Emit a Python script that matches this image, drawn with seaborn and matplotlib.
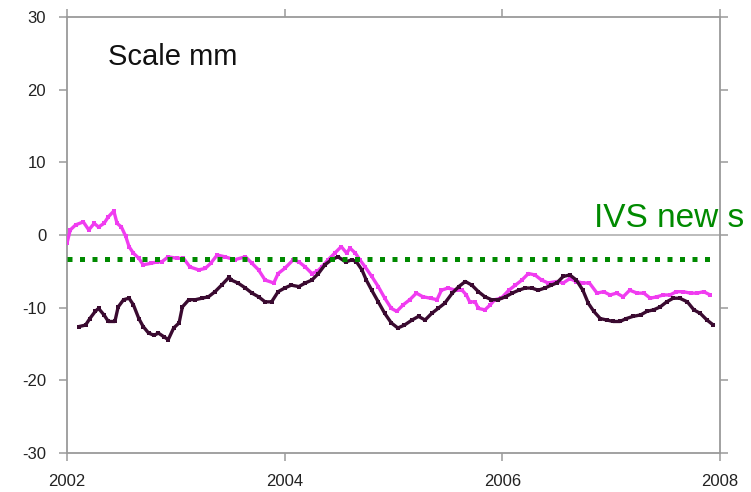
import matplotlib
matplotlib.use("Agg")
import matplotlib.pyplot as plt
import seaborn as sns
import pandas as pd

# ---- data ----
mag_year = [2002.0, 2002.03, 2002.08, 2002.15, 2002.2, 2002.25, 2002.29, 2002.34, 2002.38, 2002.43,
            2002.46, 2002.5, 2002.54, 2002.57, 2002.61, 2002.66, 2002.7, 2002.77, 2002.83, 2002.87,
            2002.93, 2003.01, 2003.07, 2003.13, 2003.21, 2003.27, 2003.32, 2003.38, 2003.45, 2003.54,
            2003.64, 2003.70, 2003.76, 2003.82, 2003.9, 2003.94, 2004.0, 2004.08, 2004.13, 2004.19,
            2004.25, 2004.3, 2004.34, 2004.4, 2004.46, 2004.52, 2004.57, 2004.6, 2004.65, 2004.69,
            2004.74, 2004.8, 2004.86, 2004.92, 2004.98, 2005.03, 2005.09, 2005.15, 2005.21, 2005.27,
            2005.34, 2005.4, 2005.44, 2005.5, 2005.57, 2005.63, 2005.67, 2005.7, 2005.75, 2005.78,
            2005.84, 2005.89, 2005.93, 2005.99, 2006.06, 2006.12, 2006.18, 2006.24, 2006.3, 2006.36,
            2006.42, 2006.5, 2006.56, 2006.62, 2006.68, 2006.74, 2006.8, 2006.87, 2006.93, 2006.99,
            2007.05, 2007.11, 2007.17, 2007.24, 2007.3, 2007.36, 2007.42, 2007.48, 2007.54, 2007.6,
            2007.66, 2007.73, 2007.79, 2007.85, 2007.91]
mag_val = [-1.1, 0.7, 1.4, 1.8, 0.7, 1.6, 1.1, 1.6, 2.5, 3.3,
           1.6, 1.1, -0.2, -1.6, -2.5, -3.2, -4.1, -3.9, -3.7, -3.7,
           -3.0, -3.2, -3.2, -4.4, -4.8, -4.6, -3.9, -2.75, -3.0, -3.4,
           -3.0, -3.9, -4.8, -6.2, -6.6, -5.3, -4.6, -3.4, -3.7, -4.4,
           -5.3, -5.0, -4.4, -3.4, -2.5, -1.6, -2.5, -1.8, -2.5, -3.4,
           -4.4, -5.7, -7.1, -8.7, -10.1, -10.5, -9.6, -8.9, -8.0, -8.5,
           -8.7, -8.9, -7.6, -7.3, -7.6, -7.6, -8.25, -9.2, -9.2, -10.1,
           -10.3, -9.6, -8.9, -8.7, -7.6, -6.9, -6.2, -5.3, -5.5, -6.2,
           -6.6, -6.4, -6.6, -6.0, -6.4, -6.6, -6.6, -8.0, -7.8, -8.25,
           -8.0, -8.5, -7.6, -8.0, -8.0, -8.7, -8.5, -8.25, -8.25, -7.8,
           -7.8, -8.0, -8.0, -7.8, -8.25]

dark_year = [2002.11, 2002.17, 2002.21, 2002.26, 2002.29, 2002.34, 2002.38, 2002.44, 2002.47, 2002.52,
             2002.57, 2002.61, 2002.66, 2002.7, 2002.75, 2002.8, 2002.84, 2002.89, 2002.93, 2002.98,
             2003.03, 2003.06, 2003.12, 2003.18, 2003.24, 2003.3, 2003.36, 2003.42, 2003.49, 2003.51,
             2003.57, 2003.64, 2003.7, 2003.76, 2003.82, 2003.88, 2003.94, 2004.0, 2004.06, 2004.13,
             2004.19, 2004.25, 2004.31, 2004.37, 2004.43, 2004.49, 2004.56, 2004.62, 2004.66, 2004.71,
             2004.75, 2004.8, 2004.86, 2004.92, 2004.98, 2005.04, 2005.1, 2005.17, 2005.23, 2005.29,
             2005.35, 2005.41, 2005.47, 2005.54, 2005.6, 2005.66, 2005.72, 2005.78, 2005.84, 2005.9,
             2005.96, 2006.03, 2006.09, 2006.15, 2006.21, 2006.27, 2006.33, 2006.39, 2006.45, 2006.5,
             2006.56, 2006.62, 2006.68, 2006.74, 2006.79, 2006.84, 2006.9, 2006.96, 2007.02, 2007.08,
             2007.14, 2007.2, 2007.27, 2007.33, 2007.39, 2007.45, 2007.51, 2007.57, 2007.63, 2007.7,
             2007.76, 2007.82, 2007.88, 2007.94]
dark_val = [-12.6, -12.4, -11.5, -10.5, -10.1, -11.0, -11.9, -11.9, -9.9, -8.9,
            -8.7, -9.6, -11.5, -12.6, -13.5, -13.8, -13.5, -14.0, -14.4, -12.8,
            -12.1, -9.9, -8.9, -8.9, -8.7, -8.5, -7.8, -6.9, -5.8, -6.2,
            -6.6, -7.3, -8.0, -8.5, -9.2, -9.2, -7.8, -7.3, -6.9, -7.1,
            -6.6, -6.2, -5.3, -4.1, -3.4, -3.0, -3.7, -3.4, -3.7, -4.8,
            -6.2, -7.6, -9.2, -10.8, -12.1, -12.8, -12.4, -11.7, -11.2, -11.7,
            -10.8, -10.1, -9.4, -8.0, -7.1, -6.4, -6.9, -7.8, -8.5, -8.9,
            -8.9, -8.5, -8.0, -7.6, -7.3, -7.3, -7.6, -7.3, -6.9, -6.6,
            -5.7, -5.5, -6.2, -7.6, -9.4, -10.5, -11.5, -11.7, -11.9, -11.9,
            -11.5, -11.2, -11.0, -10.5, -10.3, -9.9, -9.2, -8.7, -8.7, -9.2,
            -10.3, -10.8, -11.7, -12.4]

ivs_year = [2002.0, 2007.95]
ivs_val = [-3.3, -3.3]

x_ticks = [2002, 2004, 2006, 2008]
y_ticks = [-30, -20, -10, 0, 10, 20, 30]

# ---- plotting ----
sns.set_style("ticks")
plt.rcParams["font.family"] = ["Liberation Sans", "DejaVu Sans"]

fig = plt.figure(figsize=(7.51, 4.92), dpi=100)
ax = fig.add_axes([67 / 751, 1 - 453 / 492, (720 - 67) / 751, (453 - 17) / 492])

df_mag = pd.DataFrame({"year": mag_year, "val": mag_val})
df_dark = pd.DataFrame({"year": dark_year, "val": dark_val})
df_ivs = pd.DataFrame({"year": ivs_year, "val": ivs_val})

ax.axhline(0, color="#b0b0b0", lw=1.2, zorder=1)

sns.lineplot(data=df_mag, x="year", y="val", ax=ax, color="#f03cf0", lw=2.4,
             marker="s", markersize=2.8, markeredgewidth=0, zorder=3)
sns.lineplot(data=df_dark, x="year", y="val", ax=ax, color="#3a0a30", lw=2.4,
             marker="s", markersize=2.8, markeredgewidth=0, zorder=4)
sns.lineplot(data=df_ivs, x="year", y="val", ax=ax, color="#008a00", lw=3.6,
             dashes=False, zorder=5)
line = ax.lines[-1]
line.set_dashes((1, 1.5))
line.set_dash_capstyle("butt")

ax.set_xlim(2002, 2008)
ax.set_ylim(-30, 30)
ax.set_xticks(x_ticks)
ax.set_yticks(y_ticks)
ax.set_xticklabels([str(t) for t in x_ticks])
ax.set_yticklabels([str(t) for t in y_ticks])
ax.set_xlabel("")
ax.set_ylabel("")

for s in ax.spines.values():
    s.set_color("#9a9a9a")
    s.set_linewidth(1.3)
ax.tick_params(axis="both", which="both", direction="out", length=6, width=1.1,
               color="#9a9a9a", labelsize=12, labelcolor="#222222",
               top=True, right=True, labeltop=False, labelright=False)
ax.tick_params(axis="x", pad=9)
ax.tick_params(axis="y", pad=9)

ax.text(2002.377, 23.4, "Scale mm", fontsize=21, color="#111111",
        ha="left", va="baseline")
ax.text(2006.84, 1.14, "IVS new s", fontsize=24, color="#008a00",
        ha="left", va="baseline", clip_on=False, zorder=6)

fig.savefig("out.png", dpi=100)
